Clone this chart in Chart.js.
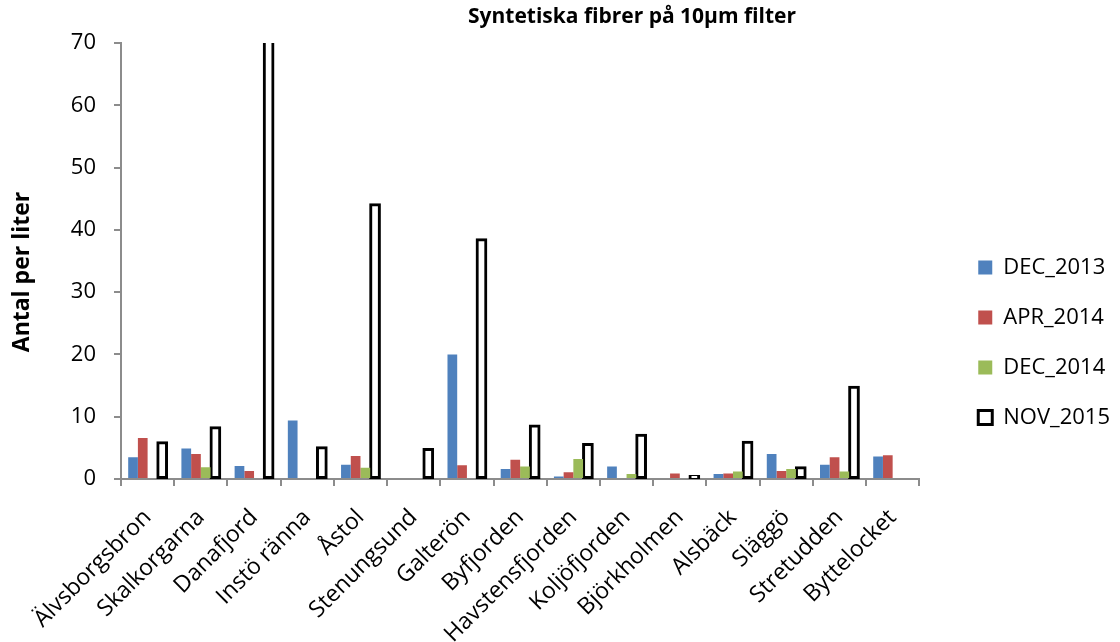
<!DOCTYPE html>
<html>
<head>
<meta charset="utf-8">
<script src="https://cdn.jsdelivr.net/npm/chart.js@4.4.1/dist/chart.umd.min.js"></script>
<style>
  html, body { margin: 0; padding: 0; background: #ffffff; }
  #wrap { position: relative; width: 1120px; height: 642px; }
</style>
</head>
<body>
<div id="wrap"><canvas id="c" width="1120" height="642"></canvas></div>
<script>
// Sampling stations
const stations = ['Älvsborgsbron', 'Skalkorgarna', 'Danafjord', 'Instö ränna', 'Åstol',
  'Stenungsund', 'Galterön', 'Byfjorden', 'Havstensfjorden', 'Koljöfjorden',
  'Björkholmen', 'Alsbäck', 'Släggö', 'Stretudden', 'Byttelocket'];

// Synthetic fibres per litre, one array per sampling campaign
const dec2013 = [3.5, 4.9, 2.1, 9.4, 2.3, null, 20.0, 1.6, 0.4, 2.0, null, 0.8, 4.0, 2.3, 3.6];
const apr2014 = [6.6, 4.0, 1.3, null, 3.7, null, 2.2, 3.1, 1.1, null, 0.9, 0.9, 1.3, 3.5, 3.8];
const dec2014 = [null, 1.9, null, null, 1.8, null, null, 2.0, 3.2, 0.8, null, 1.2, 1.6, 1.2, null];
const nov2015 = [5.9, 8.3, 75, 5.1, 44.1, 4.8, 38.5, 8.6, 5.6, 7.1, 0.5, 6.0, 1.9, 14.8, null];

const seriesNames = ['DEC_2013', 'APR_2014', 'DEC_2014', 'NOV_2015'];
const yTicks = { min: 0, max: 70, step: 10 };
const chartTitle = 'Syntetiska fibrer på 10µm filter';
const yTitle = 'Antal per liter';

const FONT = "'Open Sans', 'DejaVu Sans', sans-serif";
const AXIS_GREY = '#8c8c8c';

// Chart title and vertical axis title, drawn on the canvas
const titlePlugin = {
  id: 'titles',
  afterDraw(chart) {
    const ctx = chart.ctx;
    ctx.save();
    ctx.fillStyle = '#000';
    ctx.textAlign = 'center';
    ctx.textBaseline = 'middle';
    ctx.font = "bold 21px " + FONT;
    ctx.fillText(chartTitle, 632, 17);
    ctx.translate(22, 272);
    ctx.rotate(-Math.PI / 2);
    ctx.font = "bold 23px " + FONT;
    ctx.fillText(yTitle, 0, 0);
    ctx.restore();
  }
};

const clipArea = { left: 0, top: 0, right: 0, bottom: 6 };

new Chart(document.getElementById('c'), {
  type: 'bar',
  data: {
    labels: stations,
    datasets: [
      { label: seriesNames[0], data: dec2013, backgroundColor: '#4F81BD', borderWidth: 0, clip: clipArea },
      { label: seriesNames[1], data: apr2014, backgroundColor: '#C0504D', borderWidth: 0, clip: clipArea },
      { label: seriesNames[2], data: dec2014, backgroundColor: '#9BBB59', borderWidth: 0, clip: clipArea },
      { label: seriesNames[3], data: nov2015, backgroundColor: '#ffffff', borderColor: '#000000',
        borderWidth: 3, borderSkipped: false, inflateAmount: 1, clip: clipArea }
    ]
  },
  options: {
    responsive: false,
    animation: false,
    devicePixelRatio: 1,
    categoryPercentage: 0.73,
    barPercentage: 1.0,
    layout: { padding: { top: 43, right: 0, bottom: 0, left: 0 } },
    plugins: {
      title: { display: false },
      tooltip: { enabled: false },
      legend: {
        position: 'right',
        labels: {
          font: { family: FONT, size: 22 },
          color: '#000',
          boxWidth: 14,
          boxHeight: 14,
          padding: 28
        }
      }
    },
    scales: {
      x: {
        offset: true,
        grid: { display: true, drawOnChartArea: false, drawTicks: true, tickLength: 7, color: AXIS_GREY, lineWidth: 2, offset: true },
        border: { display: true, color: AXIS_GREY, width: 2 },
        ticks: {
          font: { family: FONT, size: 23 },
          color: '#000',
          maxRotation: 45,
          minRotation: 45,
          autoSkip: false,
          padding: 18
        },
        afterFit(scale) { scale.height = 163; }
      },
      y: {
        min: yTicks.min,
        max: yTicks.max,
        grid: { display: true, drawOnChartArea: false, drawTicks: true, tickLength: 7, color: AXIS_GREY, lineWidth: 2 },
        border: { display: true, color: AXIS_GREY, width: 2 },
        ticks: {
          stepSize: yTicks.step,
          font: { family: FONT, size: 22 },
          color: '#000',
          padding: 18
        },
        afterFit(scale) { scale.width = 121; }
      },
      // empty spacer between the plot and the legend
      gap: {
        type: 'linear',
        position: 'right',
        display: true,
        grid: { display: false, drawTicks: false },
        border: { display: false },
        ticks: { display: false },
        afterFit(scale) { scale.width = 31; }
      }
    }
  },
  plugins: [titlePlugin]
});
</script>
</body>
</html>
